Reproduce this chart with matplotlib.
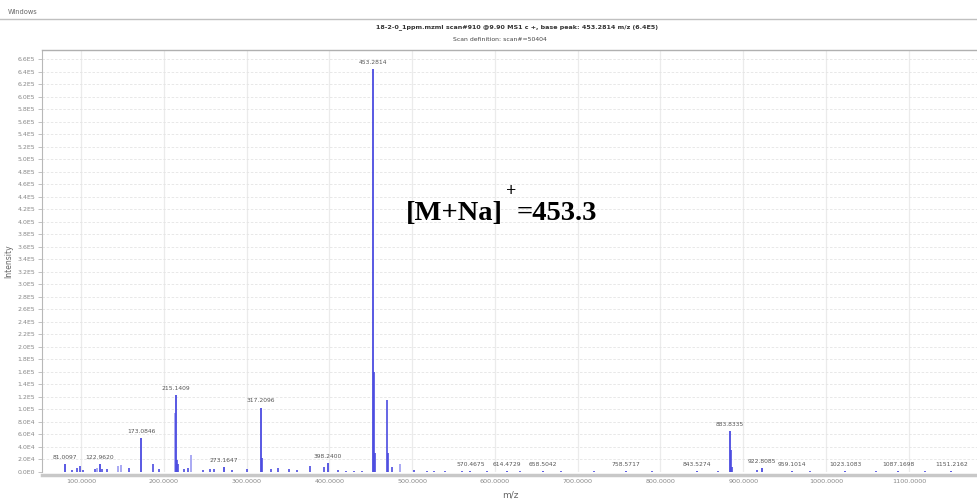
import matplotlib
matplotlib.use("Agg")
import matplotlib.pyplot as plt
import numpy as np

# ---- data ----
labeled_mz = [81.0097, 122.9620, 173.0846, 215.1409, 273.1647, 317.2096, 398.2400,
              453.2814, 570.4675, 614.4729, 658.5042, 758.5717, 843.5274, 883.8335,
              922.8085, 959.1014, 1023.1083, 1087.1698, 1151.2162]
labeled_int = [12000, 13000, 54000, 123000, 8000, 103000, 14000,
               645000, 1500, 1000, 1000, 2000, 1000, 66000,
               6000, 1000, 1000, 1000, 2000]
labeled_text = ["81.0097", "122.9620", "173.0846", "215.1409", "273.1647", "317.2096", "398.2400",
                "453.2814", "570.4675", "614.4729", "658.5042", "758.5717", "843.5274", "883.8335",
                "922.8085", "959.1014", "1023.1083", "1087.1698", "1151.2162"]

dark_mz = [216.1, 217.1, 454.28, 455.28, 469.3, 470.3, 318.2, 884.8, 885.8, 916.0,
           89.8, 95.0, 98.5, 103.0, 117.0, 125.0, 131.0, 158.5, 187.0, 194.0, 224.0,
           229.5, 248.0, 256.0, 261.0, 282.0, 301.0, 329.0, 338.5, 351.0, 361.0,
           376.5, 393.3, 410.0, 420.0, 430.0, 440.0, 476.0, 502.0, 518.0, 526.0, 540.0,
           560.0, 590.0, 630.0, 680.0, 720.0, 790.0, 870.0, 980.0, 1060.0, 1120.0]
dark_int = [19000, 12000, 160000, 30000, 115000, 30000, 23000, 35000, 8000, 3000,
            3000, 6000, 10000, 3000, 5000, 4000, 4000, 6000, 12000, 5000, 4000,
            6000, 3000, 5000, 5000, 3000, 4000, 4000, 7000, 4000, 3000,
            9000, 8000, 3000, 2000, 2000, 2000, 8000, 3000, 2000, 2000, 2000,
            1500, 1000, 1000, 1000, 1000, 1000, 1000, 1000, 1000, 1000]

light_mz = [213.1, 233.4, 144.5, 148.0, 485.0, 120.0]
light_int = [94000, 27000, 9000, 11000, 13000, 6000]

y_ticks = np.arange(0, 660001, 20000)
x_ticks = [100, 200, 300, 400, 500, 600, 700, 800, 900, 1000, 1100]

title_text = "18-2-0_1ppm.mzml scan#910 @9.90 MS1 c +, base peak: 453.2814 m/z (6.4E5)"
sub_text = "Scan definition: scan#=50404"

# ---- figure ----
W, H = 978, 504
fig = plt.figure(figsize=(W / 100, H / 100), dpi=100)
ax = fig.add_axes([42 / W, 1 - 472 / H, 1 - 42 / W, (472 - 50) / H])

ax.set_xlim(53, 1183.5)
ax.set_ylim(0, 675000)

dark_c = "#4b4be0"
light_c = "#a3a3f2"
ax.vlines(light_mz, 0, light_int, color=light_c, lw=1.3, zorder=3)
ax.vlines(dark_mz, 0, dark_int, color=dark_c, lw=1.2, zorder=3)
ax.vlines(labeled_mz, 0, labeled_int, color=dark_c, lw=1.3, zorder=4)

for m, v, t in zip(labeled_mz, labeled_int, labeled_text):
    ax.annotate(t, (m, v), xytext=(0, 3), textcoords="offset points",
                ha="center", va="bottom", fontsize=4.3, color="#555555")

def fmt(v):
    if v == 0:
        return "0.0E0"
    e = int(np.floor(np.log10(v)))
    return f"{v / 10**e:.1f}E{e}"

ax.set_yticks(y_ticks)
ax.set_yticklabels([fmt(v) for v in y_ticks])
ax.set_xticks(x_ticks)
ax.set_xticklabels([f"{v:.4f}" for v in x_ticks])
ax.tick_params(axis="y", length=3, width=0.5, color="#aaaaaa", pad=2,
               labelsize=4.5, labelcolor="#888888")
ax.tick_params(axis="x", length=0, pad=3, labelsize=4.6, labelcolor="#888888")

ax.grid(axis="y", color="#e4e4e4", lw=0.6, ls=(0, (3, 2)))
ax.grid(axis="x", color="#ebebeb", lw=0.9)
ax.set_axisbelow(True)

ax.spines["right"].set_visible(False)
ax.spines["top"].set_color("#b0b0b0")
ax.spines["top"].set_linewidth(1.0)
ax.spines["left"].set_color("#b8b8b8")
ax.spines["left"].set_linewidth(0.8)
ax.spines["bottom"].set_color("#c8c8c8")
ax.spines["bottom"].set_linewidth(2.5)
ax.spines["bottom"].set_position(("outward", 2))

ax.set_xlabel("m/z", fontsize=6.5, color="#666666", labelpad=5)
ax.set_ylabel("Intensity", fontsize=5.5, color="#666666", labelpad=3)

# header
fig.text(8 / W, 1 - 12 / H, "Windows", fontsize=4.8, color="#666666", va="center")
fig.add_artist(plt.Line2D([0, 1], [1 - 19 / H, 1 - 19 / H], color="#c0c0c0", lw=1.0))
fig.text(517 / W, 1 - 27 / H, title_text, fontsize=4.6, color="#333333",
         ha="center", va="center", fontweight="bold")
fig.text(500 / W, 1 - 40 / H, sub_text, fontsize=4.4, color="#444444",
         ha="center", va="center")

# annotation
fig.text(406 / W, 1 - 213 / H, "[M+Na]", fontsize=20.5, fontweight="bold",
         family="Liberation Serif", color="black", ha="left", va="center")
fig.text(506 / W, 1 - 192 / H, "+", fontsize=13, fontweight="bold",
         family="Liberation Serif", color="black", ha="left", va="center")
fig.text(517 / W, 1 - 213 / H, "=453.3", fontsize=20.5, fontweight="bold",
         family="Liberation Serif", color="black", ha="left", va="center")

fig.savefig("out.png", dpi=100)
